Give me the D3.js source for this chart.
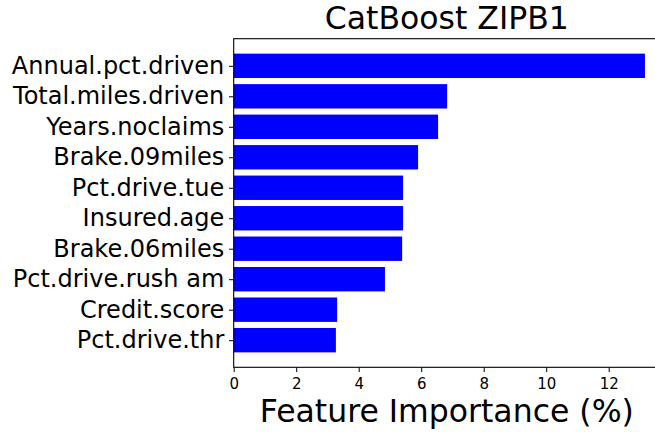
<!DOCTYPE html>
<html><head><meta charset="utf-8">
<script src="https://cdn.jsdelivr.net/npm/d3@7"></script>
<style>body{margin:0;background:#fff}svg{display:block;font-family:"DejaVu Sans",sans-serif}</style>
</head><body>
<svg id="chart" width="655" height="432"></svg>
<script>
const features = ["Annual.pct.driven","Total.miles.driven","Years.noclaims","Brake.09miles","Pct.drive.tue","Insured.age","Brake.06miles","Pct.drive.rush am","Credit.score","Pct.drive.thr"];
const importance = [13.16,6.83,6.54,5.90,5.42,5.42,5.39,4.84,3.31,3.27];
const xTicks = [0,2,4,6,8,10,12];
const titleText = "CatBoost ZIPB1";
const xLabelText = "Feature Importance (%)";

(function(){
const svg = d3.select("#chart");
const pLeft = 233.7, pTop = 38.7, pBottom = 367.3;
const xmax = 13.64;
const x = d3.scaleLinear().domain([0, xmax]).range([pLeft, pLeft + 31.25 * xmax]);
const n = features.length;
const lo = -0.4 - 0.05 * (n - 1 + 0.8), hi = (n - 1) + 0.4 + 0.05 * (n - 1 + 0.8);
const y = d3.scaleLinear().domain([lo, hi]).range([pBottom, pTop]);
const pos = i => n - 1 - i;
const bh = Math.abs(y(0.8) - y(0));

svg.append("g").selectAll("rect").data(importance).join("rect")
  .attr("x", x(0)).attr("y", (d,i) => y(pos(i) + 0.4))
  .attr("width", d => x(d) - x(0)).attr("height", bh)
  .attr("fill", "#0000ff");

const pRight = x(xmax);
svg.append("rect").attr("x", pLeft).attr("y", pTop).attr("width", pRight - pLeft).attr("height", pBottom - pTop)
  .attr("fill", "none").attr("stroke", "#000").attr("stroke-width", 1.1);

const xAxis = d3.axisBottom(x).tickValues(xTicks).tickFormat(d3.format("d")).tickSize(4.7).tickPadding(6);
const gx = svg.append("g").attr("transform", `translate(0,${pBottom})`).call(xAxis);
gx.select(".domain").remove();
gx.selectAll("text").attr("font-size", 15).attr("fill", "#000").attr("font-family", "DejaVu Sans");
gx.selectAll("line").attr("stroke", "#000");

const yAxis = d3.axisLeft(y).tickValues(d3.range(n)).tickFormat(v => features[n - 1 - v]).tickSize(4.7).tickPadding(4.7);
const gy = svg.append("g").attr("transform", `translate(${pLeft},0)`).call(yAxis);
gy.select(".domain").remove();
gy.selectAll("text").attr("font-size", 24).attr("fill", "#000").attr("font-family", "DejaVu Sans");
gy.selectAll("line").attr("stroke", "#000");

svg.append("text").attr("x", (pLeft + pRight) / 2).attr("y", 29).attr("text-anchor", "middle")
  .attr("font-size", 31.5).attr("fill", "#000").text(titleText);
svg.append("text").attr("x", (pLeft + pRight) / 2).attr("y", 422).attr("text-anchor", "middle")
  .attr("font-size", 31.5).attr("fill", "#000").text(xLabelText);
})();
</script>
</body></html>
